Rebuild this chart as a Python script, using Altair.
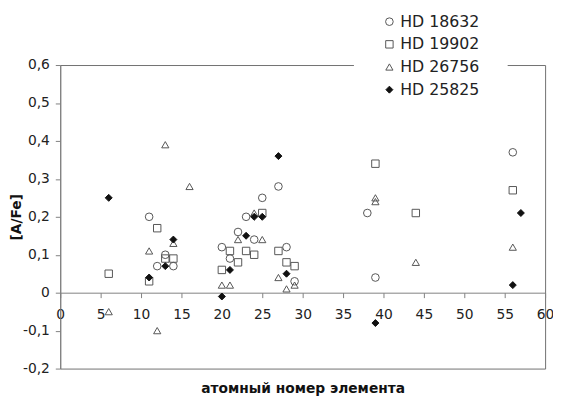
import altair as alt
import pandas as pd

series_names = ["HD 18632", "HD 19902", "HD 26756", "HD 25825"]

hd18632_z = [11, 12, 13, 14, 20, 21, 22, 23, 24, 25, 27, 28, 29, 38, 39, 56]
hd18632_v = [0.20, 0.07, 0.10, 0.07, 0.12, 0.09, 0.16, 0.20, 0.14, 0.25, 0.28, 0.12, 0.03, 0.21, 0.04, 0.37]

hd19902_z = [6, 11, 12, 13, 14, 20, 21, 22, 23, 24, 25, 27, 28, 29, 39, 44, 56]
hd19902_v = [0.05, 0.03, 0.17, 0.09, 0.09, 0.06, 0.11, 0.08, 0.11, 0.10, 0.21, 0.11, 0.08, 0.07, 0.34, 0.21, 0.27]

hd26756_z = [6, 11, 12, 13, 14, 16, 20, 21, 22, 24, 25, 27, 28, 29, 39, 39, 44, 56]
hd26756_v = [-0.05, 0.11, -0.10, 0.39, 0.13, 0.28, 0.02, 0.02, 0.14, 0.21, 0.14, 0.04, 0.01, 0.02, 0.25, 0.24, 0.08, 0.12]

hd25825_z = [6, 11, 13, 14, 20, 21, 23, 24, 25, 27, 28, 39, 56, 57]
hd25825_v = [0.25, 0.04, 0.07, 0.14, -0.01, 0.06, 0.15, 0.20, 0.20, 0.36, 0.05, -0.08, 0.02, 0.21]

x_ticks = [0, 5, 10, 15, 20, 25, 30, 35, 40, 45, 50, 55, 60]
y_ticks = [-0.2, -0.1, 0.0, 0.1, 0.2, 0.3, 0.4, 0.5, 0.6]

rows = []
for name, zs, vs in [
    (series_names[0], hd18632_z, hd18632_v),
    (series_names[1], hd19902_z, hd19902_v),
    (series_names[2], hd26756_z, hd26756_v),
    (series_names[3], hd25825_z, hd25825_v),
]:
    for z, v in zip(zs, vs):
        rows.append({"z": z, "v": v, "star": name})
df = pd.DataFrame(rows)

W, H = 492, 308
FONT = "DejaVu Sans"
leg = alt.Legend(title=None)

y_label_expr = (
    "datum.value == 0 ? '0' : "
    "replace(replace(format(datum.value, '.1f'), '.', ','), '\u2212', '-')"
)

chart = (
    alt.Chart(df)
    .mark_point(strokeWidth=1, opacity=1, filled=True)
    .encode(
        x=alt.X(
            "z:Q",
            scale=alt.Scale(domain=[0, 60], nice=False, zero=False),
            axis=alt.Axis(
                values=x_ticks,
                offset=-H / 4,
                grid=False,
                labelFlush=False,
                tickSize=5,
                labelPadding=10,
                title="атомный номер элемента",
                titleY=97,
                titleBaseline="middle",
            ),
        ),
        y=alt.Y(
            "v:Q",
            scale=alt.Scale(domain=[-0.2, 0.6], nice=False, zero=False),
            axis=alt.Axis(
                values=y_ticks,
                labelExpr=y_label_expr,
                grid=False,
                labelFlush=False,
                tickSize=5,
                labelPadding=6,
                title="[A/Fe]",
                titleX=-44,
                titleY=H / 2,
                titleAngle=270,
                titleAlign="center",
                titleBaseline="middle",
            ),
        ),
        shape=alt.Shape(
            "star:N",
            scale=alt.Scale(domain=series_names, range=["circle", "square", "triangle-up", "diamond"]),
            legend=leg,
        ),
        fill=alt.Fill(
            "star:N",
            scale=alt.Scale(domain=series_names, range=["transparent", "transparent", "transparent", "#111111"]),
            legend=leg,
        ),
        stroke=alt.Stroke(
            "star:N",
            scale=alt.Scale(domain=series_names, range=["#555555", "#555555", "#555555", "#111111"]),
            legend=leg,
        ),
        size=alt.Size(
            "star:N",
            scale=alt.Scale(domain=series_names, range=[60, 50, 55, 70]),
            legend=leg,
        ),
    )
    .properties(
        width=W,
        height=H,
        autosize=alt.AutoSizeParams(type="none"),
        padding={"left": 53, "top": 55, "right": 8, "bottom": 28},
    )
    .configure_view(stroke="#707070", strokeWidth=1)
    .configure_axis(
        domainColor="#808080",
        tickColor="#808080",
        labelFont=FONT,
        labelFontSize=14,
        labelColor="#222222",
        titleFont=FONT,
        titleFontSize=14,
        titleFontWeight="bold",
        titleColor="#111111",
    )
    .configure_legend(
        orient="none",
        legendX=298,
        legendY=-80,
        padding=28,
        fillColor="white",
        labelFont=FONT,
        labelFontSize=16,
        labelColor="#222222",
        symbolStrokeWidth=1,
        rowPadding=7,
        labelOffset=3,
    )
)

chart.save("out.html", embed_options={"renderer": "svg", "actions": False})
